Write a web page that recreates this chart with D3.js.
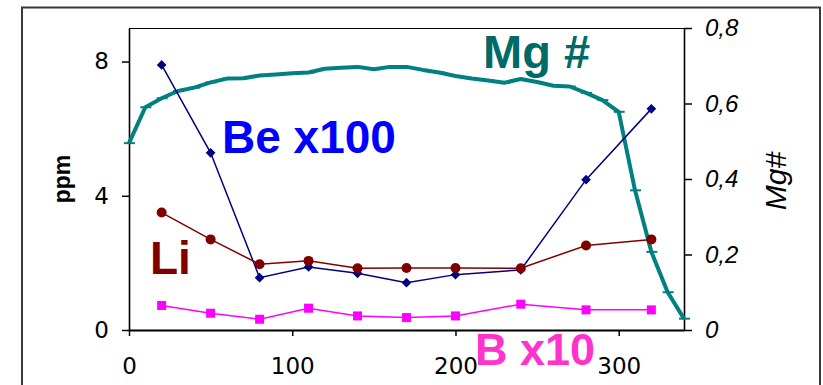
<!DOCTYPE html>
<html>
<head>
<meta charset="utf-8">
<script src="https://cdn.jsdelivr.net/npm/d3@7/dist/d3.min.js"></script>
<style>
  html, body { margin: 0; padding: 0; background: #fff; }
  svg { display: block; }
</style>
</head>
<body>
<svg id="chart" width="823" height="385"></svg>
<script>
// Sample positions along the profile
const positions = [20, 50, 80, 110, 140, 170, 200, 240, 280, 320];
// Trace-element series (ppm; Be scaled x100, B scaled x10)
const beValues = [7.9, 5.28, 1.56, 1.88, 1.69, 1.41, 1.65, 1.79, 4.48, 6.59];
const liValues = [3.5, 2.7, 1.96, 2.06, 1.84, 1.85, 1.85, 1.84, 2.52, 2.7];
const bValues  = [0.73, 0.5, 0.32, 0.65, 0.42, 0.37, 0.42, 0.77, 0.6, 0.6];

// Mg# profile (secondary axis)
const mgPositions = [0, 10, 20, 30, 40, 50, 60, 70, 80, 90, 100, 110, 120, 130, 140, 150, 160, 170,
                     180, 190, 200, 210, 220, 230, 240, 250, 260, 270, 280, 290, 300, 310, 320, 330, 340];
const mgValues = [0.495, 0.59, 0.614, 0.633, 0.642, 0.656, 0.666, 0.667, 0.674, 0.677, 0.68, 0.682,
                  0.692, 0.695, 0.697, 0.691, 0.697, 0.697, 0.689, 0.682, 0.673, 0.666, 0.661, 0.655,
                  0.665, 0.657, 0.647, 0.645, 0.628, 0.609, 0.578, 0.37, 0.207, 0.1, 0.03];

// Axis ticks
const xTicks = [0, 100, 200, 300];
const xTickLabels = ["0", "100", "200", "300"];
const leftTicks = [0, 4, 8];
const leftTickLabels = ["0", "4", "8"];
const rightTicks = [0, 0.2, 0.4, 0.6, 0.8];
const rightTickLabels = ["0", "0,2", "0,4", "0,6", "0,8"];

const svg = d3.select("#chart");

const plot = { left: 129, right: 684, top: 28, bottom: 330 };

const x = d3.scaleLinear().domain([0, 340]).range([plot.left, plot.right]);
const yL = d3.scaleLinear().domain([0, 9]).range([plot.bottom, plot.top]);
const yR = d3.scaleLinear().domain([0, 0.8]).range([plot.bottom, plot.top]);

// Outer chart frame
svg.append("rect")
  .attr("x", 22).attr("y", 7.5)
  .attr("width", 798).attr("height", 420)
  .attr("fill", "#fff")
  .attr("stroke", "#3a3a3a")
  .attr("stroke-width", 2);

// Plot area top border
svg.append("line")
  .attr("x1", plot.left).attr("x2", plot.right)
  .attr("y1", plot.top + 0.5).attr("y2", plot.top + 0.5)
  .attr("stroke", "#000").attr("stroke-width", 1.2);

const tickFont = "'DejaVu Sans', Verdana, sans-serif";

// Left axis (ppm)
const gL = svg.append("g")
  .attr("transform", `translate(${plot.left},0)`)
  .call(d3.axisLeft(yL).tickValues(leftTicks)
    .tickFormat((d, i) => leftTickLabels[i])
    .tickSize(7).tickSizeOuter(0).tickPadding(13));

// Bottom axis
const gB = svg.append("g")
  .attr("transform", `translate(0,${plot.bottom})`)
  .call(d3.axisBottom(x).tickValues(xTicks)
    .tickFormat((d, i) => xTickLabels[i])
    .tickSize(6).tickSizeOuter(0).tickPadding(22));

// Right axis (Mg#)
const gR = svg.append("g")
  .attr("transform", `translate(${plot.right},0)`)
  .call(d3.axisRight(yR).tickValues(rightTicks)
    .tickFormat((d, i) => rightTickLabels[i])
    .tickSize(8).tickSizeOuter(0).tickPadding(13));

[gL, gB].forEach(g => {
  g.selectAll("text").attr("font-family", tickFont).attr("font-size", 23).attr("fill", "#000");
});
gR.selectAll("text")
  .attr("font-family", "'Liberation Sans', Arial, sans-serif")
  .attr("font-style", "italic")
  .attr("font-size", 24).attr("fill", "#000");

[gL, gB, gR].forEach(g => {
  g.selectAll("line").attr("stroke", "#000").attr("stroke-width", 1.5);
  g.select(".domain").attr("stroke", "#000").attr("stroke-width", 1.6);
});
gB.select(".domain").attr("stroke-width", 2.2);

// Axis titles
svg.append("text")
  .attr("transform", "translate(70,179) rotate(-90)")
  .attr("text-anchor", "middle")
  .attr("font-family", "'Liberation Sans', Arial, sans-serif")
  .attr("font-weight", "bold")
  .attr("font-size", 23)
  .text("ppm");

svg.append("text")
  .attr("transform", "translate(786,181) rotate(-90)")
  .attr("text-anchor", "middle")
  .attr("font-family", "'Liberation Sans', Arial, sans-serif")
  .attr("font-style", "italic")
  .attr("font-size", 30)
  .text("Mg#");

// Mg# line with dash markers
const mgData = mgPositions.map((p, i) => ({ x: p, v: mgValues[i] }));
const mgColor = "#008080";
svg.append("path")
  .datum(mgData)
  .attr("fill", "none")
  .attr("stroke", mgColor)
  .attr("stroke-width", 4)
  .attr("stroke-linejoin", "round")
  .attr("d", d3.line().x(d => x(d.x)).y(d => yR(d.v)));
svg.append("g").selectAll("line")
  .data(mgData).join("line")
  .attr("x1", d => x(d.x) - 5).attr("x2", d => x(d.x) + 6)
  .attr("y1", d => yR(d.v)).attr("y2", d => yR(d.v))
  .attr("stroke", mgColor).attr("stroke-width", 2);

// Trace element series
function series(values, color) {
  const data = positions.map((p, i) => ({ x: p, v: values[i] }));
  svg.append("path")
    .datum(data)
    .attr("fill", "none")
    .attr("stroke", color)
    .attr("stroke-width", 1.5)
    .attr("d", d3.line().x(d => x(d.x)).y(d => yL(d.v)));
  return data;
}

const beColor = "#000080";
const liColor = "#800000";
const bColor = "#ff00ff";

const beData = series(beValues, beColor);
svg.append("g").selectAll("path")
  .data(beData).join("path")
  .attr("transform", d => `translate(${x(d.x)},${yL(d.v)})`)
  .attr("d", d3.symbol(d3.symbolDiamond2, 60))
  .attr("fill", beColor);

const liData = series(liValues, liColor);
svg.append("g").selectAll("circle")
  .data(liData).join("circle")
  .attr("cx", d => x(d.x)).attr("cy", d => yL(d.v))
  .attr("r", 5)
  .attr("fill", liColor);

const bData = series(bValues, bColor);
svg.append("g").selectAll("rect")
  .data(bData).join("rect")
  .attr("x", d => x(d.x) - 4.5).attr("y", d => yL(d.v) - 4.5)
  .attr("width", 9).attr("height", 9)
  .attr("fill", bColor);

// Series labels
const labelFont = "'Liberation Sans', Arial, sans-serif";
const labels = [
  { text: "Mg #", x: 483, y: 68, size: 47, color: "#006b66" },
  { text: "Be x100", x: 222, y: 153, size: 46, color: "#0000ff" },
  { text: "Li", x: 150, y: 274, size: 46, color: "#800000" },
  { text: "B x10", x: 475, y: 365, size: 45, color: "#ff33cc" }
];
svg.append("g").selectAll("text")
  .data(labels).join("text")
  .attr("x", d => d.x).attr("y", d => d.y)
  .attr("font-family", labelFont)
  .attr("font-weight", "bold")
  .attr("font-size", d => d.size)
  .attr("fill", d => d.color)
  .text(d => d.text);
</script>
</body>
</html>
